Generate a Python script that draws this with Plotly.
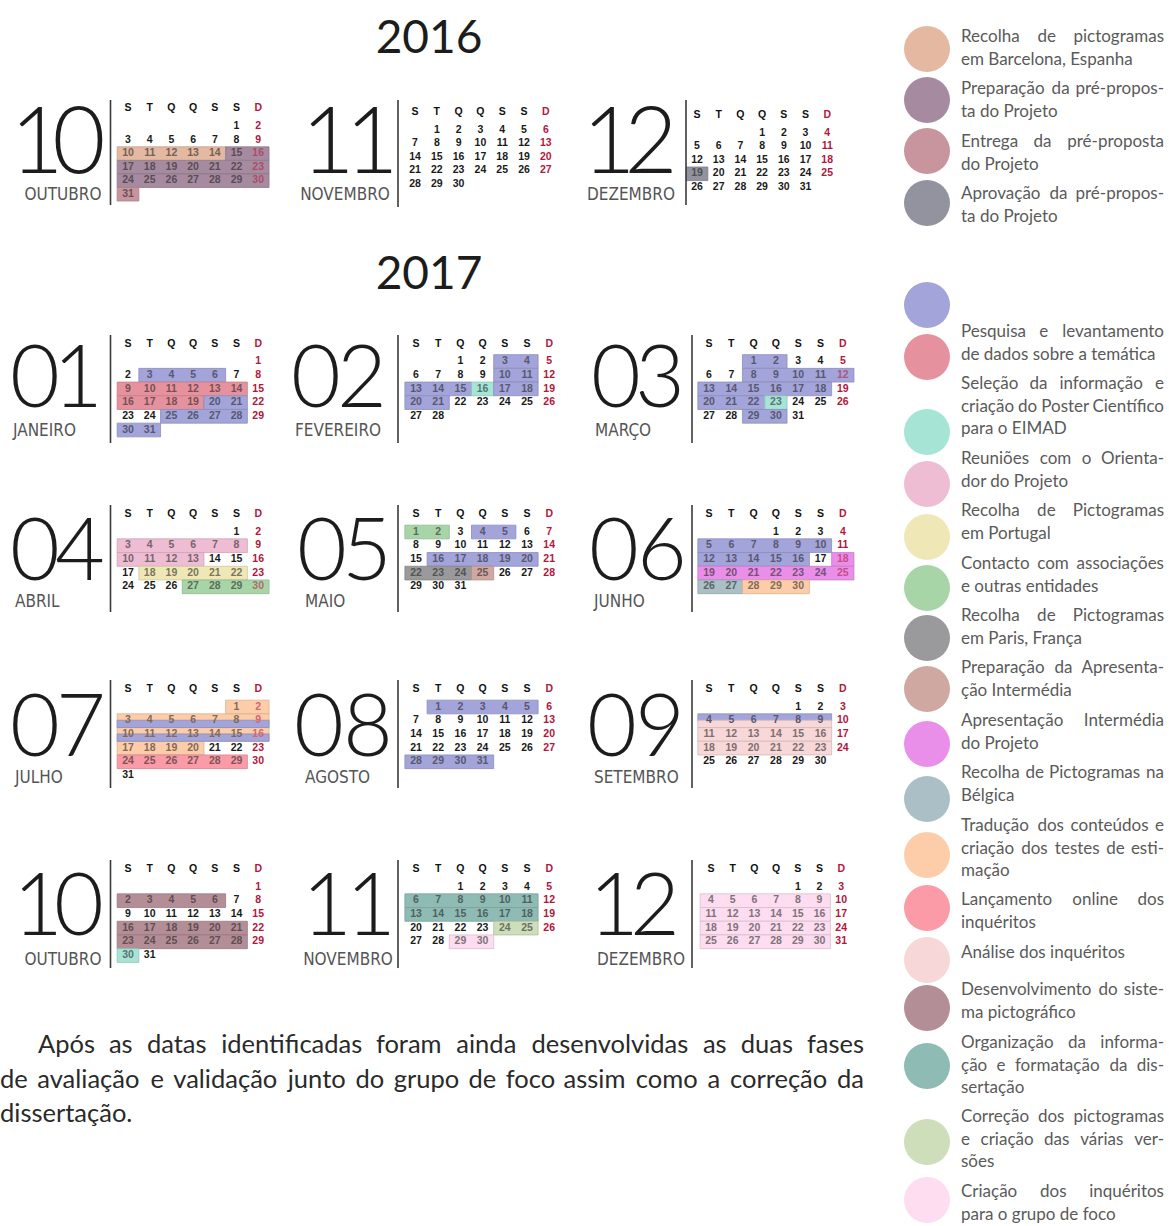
import calendar
import unicodedata
import plotly.graph_objects as go

W, H = 1169, 1226

# ---------------- data ----------------
TITLES = ["2016", "2017"]
MONTH_NAMES = {1: "JANEIRO", 2: "FEVEREIRO", 3: "MARÇO", 4: "ABRIL", 5: "MAIO", 6: "JUNHO",
               7: "JULHO", 8: "AGOSTO", 9: "SETEMBRO", 10: "OUTUBRO", 11: "NOVEMBRO", 12: "DEZEMBRO"}
WEEKDAY_HEADERS = ["S", "T", "Q", "Q", "S", "S", "D"]
MONTHS_SHOWN = [(2016, 10), (2016, 11), (2016, 12)] + [(2017, m) for m in range(1, 13)]

# activity colours (legend circle order)
ACT_COLORS = ["#E4B8A1", "#A68BA0", "#C8959F", "#92939F", "#A3A4D9", "#E6929E", "#A6E4D6",
              "#EEBDD3", "#EFE8B6", "#A8D5A8", "#9A9A9C", "#CFA8A1", "#E98FE9", "#ABC0C6",
              "#FDCDA9", "#FA9BA7", "#F7D7D7", "#B38E97", "#8FBBB5", "#CEDDBA", "#FDDDEF"]

# highlighted periods: activity index, year, month, first day, last day, part of cell
PER_ACT = [0, 1, 2, 3,
           4, 5, 5, 4, 4, 4,
           4, 4, 4, 6, 4, 4,
           4, 4, 4, 6, 4,
           7, 7, 8, 9,
           9, 4, 4, 10, 11,
           4, 4, 12, 13, 14,
           14, 4, 4, 15,
           4, 4,
           4, 16, 16, 16,
           17, 17, 17, 6,
           18, 18, 19, 20,
           20, 20, 20, 20]
PER_YEAR = [2016] * 4 + [2017] * 54
PER_MONTH = [10, 10, 10, 12,
             1, 1, 1, 1, 1, 1,
             2, 2, 2, 2, 2, 2,
             3, 3, 3, 3, 3,
             4, 4, 4, 4,
             5, 5, 5, 5, 5,
             6, 6, 6, 6, 6,
             7, 7, 7, 7,
             8, 8,
             9, 9, 9, 9,
             10, 10, 10, 10,
             11, 11, 11, 11,
             12, 12, 12, 12]
PER_START = [10, 15, 31, 19,
             3, 9, 16, 20, 25, 30,
             3, 10, 13, 16, 17, 20,
             1, 8, 20, 23, 29,
             3, 10, 18, 27,
             1, 4, 16, 22, 25,
             5, 12, 18, 26, 28,
             1, 3, 10, 24,
             1, 28,
             4, 4, 11, 18,
             2, 16, 23, 30,
             6, 13, 24, 29,
             4, 11, 18, 25]
PER_END = [14, 30, 31, 19,
           6, 14, 19, 21, 28, 31,
           4, 11, 15, 16, 18, 21,
           2, 18, 22, 23, 30,
           8, 13, 22, 30,
           2, 5, 20, 24, 25,
           10, 16, 25, 27, 30,
           20, 9, 16, 29,
           5, 31,
           9, 9, 16, 23,
           6, 21, 28, 30,
           11, 18, 25, 30,
           9, 16, 23, 30]
PER_PART = ["full"] * 36 + ["bottom", "bottom", "full", "full", "full", "top", "bottom"] + ["full"] * 15

LEGEND_TEXT = [
    ["Recolha de pictogramas", "em Barcelona, Espanha"],
    ["Preparação da pré-propos-", "ta do Projeto"],
    ["Entrega da pré-proposta", "do Projeto"],
    ["Aprovação da pré-propos-", "ta do Projeto"],
    ["Pesquisa e levantamento", "de dados sobre a temática"],
    ["Seleção da informação e", "criação do Poster Científico", "para o EIMAD"],
    ["Reuniões com o Orienta-", "dor do Projeto"],
    ["Recolha de Pictogramas", "em Portugal"],
    ["Contacto com associações", "e outras entidades"],
    ["Recolha de Pictogramas", "em Paris, França"],
    ["Preparação da Apresenta-", "ção Intermédia"],
    ["Apresentação Intermédia", "do Projeto"],
    ["Recolha de Pictogramas na", "Bélgica"],
    ["Tradução dos conteúdos e", "criação dos testes de esti-", "mação"],
    ["Lançamento online dos", "inquéritos"],
    ["Análise dos inquéritos"],
    ["Desenvolvimento do siste-", "ma pictográfico"],
    ["Organização da informa-", "ção e formatação da dis-", "sertação"],
    ["Correção dos pictogramas", "e criação das várias ver-", "sões"],
    ["Criação dos inquéritos", "para o grupo de foco"],
]

PARAGRAPH = ["Após as datas identificadas foram ainda desenvolvidas as duas fases",
             "de avaliação e validação junto do grupo de foco assim como a correção da",
             "dissertação."]

# ---------------- layout constants ----------------
LEG_CIRCLE_Y = [49, 100, 151, 203, 305, 357, 432, 484, 537, 588, 638, 689, 744, 799, 855,
                908, 960, 1008, 1066, 1142, 1200]
LEG_TEXT_Y = [38, 90, 143, 195, 333, 385, 460, 512, 565, 617, 669, 722, 774, 827, 901,
              954, 991, 1044, 1118, 1193]
LEG_LINE = 22.6
LEG_X0, LEG_X1 = 961, 1164

BLOCKS = {
    (2016, 10): dict(gx=128, gdx=21.7, hy=108, ry=126.5, ddy=13.55, ny=150, ns=92,
                     lx=63, ly=196, la="middle center", vx=110.5, vy=(100, 205)),
    (2016, 11): dict(gx=415, gdx=21.8, hy=112, ry=130, ddy=13.6, ny=150, ns=92,
                     lx=345, ly=196, la="middle center", vx=398, vy=(100, 207)),
    (2016, 12): dict(gx=697, gdx=21.7, hy=115, ry=133, ddy=13.6, ny=150, ns=92,
                     lx=631, ly=196, la="middle center", vx=686, vy=(100, 205)),
}
DIGIT_X = {(2016, 10): (37, 79), (2016, 11): (328, 372), (2016, 12): (609, 651),
           (2017, 1): (35, 78), (2017, 2): (316, 362), (2017, 3): (616, 660),
           (2017, 4): (35, 80), (2017, 5): (322, 367), (2017, 6): (614, 662),
           (2017, 7): (35, 81), (2017, 8): (319, 368), (2017, 9): (612, 660),
           (2017, 10): (38, 79), (2017, 11): (327, 371), (2017, 12): (614, 655)}
ROW_HY = [344, 514, 689, 869]
ROW_RY = [361.5, 532, 707, 887]
ROW_NY = [385, 558, 734, 913]
ROW_LY = [432, 603, 779, 961]
ROW_V = [(335, 443), (505, 612), (680, 788), (860, 968)]
COL_GX = [128, 416, 709]
COL_GDX = [21.7, 22.2, 22.3]
COL_VX = [110.5, 398, 692]
LAB_X = {1: 13, 2: 295, 3: 595, 4: 15, 5: 305, 6: 594, 7: 15, 8: 305, 9: 594, 10: 63, 11: 348, 12: 641}
for m in range(1, 13):
    r, c = (m - 1) // 3, (m - 1) % 3
    BLOCKS[(2017, m)] = dict(gx=COL_GX[c], gdx=COL_GDX[c], hy=ROW_HY[r], ry=ROW_RY[r], ddy=13.7,
                             ny=ROW_NY[r], ns=86, lx=LAB_X[m], ly=ROW_LY[r],
                             la="middle right" if m <= 9 else "middle center",
                             vx=COL_VX[c], vy=ROW_V[r])
BLOCKS[(2017, 12)].update(gx=711, gdx=21.7)

BLACK = (26, 26, 26)
RED = (178, 22, 60)


def h2r(h):
    return tuple(int(h[i:i + 2], 16) for i in (1, 3, 5))


def r2h(c):
    return "#%02x%02x%02x" % tuple(int(round(max(0, min(255, v)))) for v in c)


def blend(a, b, k):
    return tuple(a[i] * (1 - k) + b[i] * k for i in range(3))


CW = {'a': .514, 'b': .566, 'c': .458, 'd': .566, 'e': .525, 'f': .316, 'g': .505, 'h': .566,
      'i': .241, 'j': .241, 'k': .5, 'l': .241, 'm': .853, 'n': .566, 'o': .562, 'p': .566,
      'q': .566, 'r': .362, 's': .427, 't': .345, 'u': .566, 'v': .507, 'w': .779, 'x': .488,
      'y': .507, 'z': .456, 'A': .68, 'B': .62, 'C': .66, 'D': .72, 'E': .55, 'F': .53,
      'G': .7, 'H': .74, 'I': .28, 'J': .39, 'K': .62, 'L': .5, 'M': .88, 'N': .74, 'O': .78,
      'P': .6, 'Q': .78, 'R': .62, 'S': .52, 'T': .56, 'U': .71, 'V': .66, 'W': 1.0, 'X': .63,
      'Y': .6, 'Z': .6, '-': .34, ',': .21, '.': .21}


def word_w(word, size):
    t = 0
    for ch in word:
        b = unicodedata.normalize("NFD", ch)[0]
        t += CW.get(b, .58)
    return t * size


def place_line(line, x0, x1, y, justify, size, out):
    words = line.split()
    if justify and len(words) > 1:
        ws = [word_w(w, size) for w in words]
        gap = (x1 - x0 - sum(ws)) / (len(words) - 1)
        x = x0
        for i, w in enumerate(words):
            if i == len(words) - 1:
                out.append((x1, y, w, "middle left"))
            else:
                out.append((x, y, w, "middle right"))
            x += ws[i] + gap
    else:
        out.append((x0, y, line, "middle right"))


fig = go.Figure()
shapes = []

# ---------------- calendars ----------------
day_x, day_y, day_t, day_c = [], [], [], []
hd_x, hd_y, hd_t, hd_c = [], [], [], []
num_x, num_y, num_t, num_s = [], [], [], []
lab_x, lab_y, lab_t, lab_p = [], [], [], []

for (yy, mm) in MONTHS_SHOWN:
    b = BLOCKS[(yy, mm)]
    first_wd, ndays = calendar.monthrange(yy, mm)

    def pos(d):
        idx = first_wd + d - 1
        return idx % 7, idx // 7

    # headers
    for c, letter in enumerate(WEEKDAY_HEADERS):
        hd_x.append(b["gx"] + c * b["gdx"])
        hd_y.append(b["hy"])
        hd_t.append(letter)
        hd_c.append(r2h(RED if c == 6 else (17, 17, 17)))

    # highlight layers
    layers = []
    for a, py, pm, s, e, part in zip(PER_ACT, PER_YEAR, PER_MONTH, PER_START, PER_END, PER_PART):
        if py == yy and pm == mm:
            layers.append((a, part, list(range(s, e + 1))))
    layers.sort(key=lambda L: 0 if L[1] == "full" else 1)
    cell_fill = {}
    for a, part, days in layers:
        for d in days:
            cell_fill.setdefault(d, a)
        runs = []
        for d in days:
            c, r = pos(d)
            if runs and runs[-1][0] == r and runs[-1][2] == c - 1:
                runs[-1][2] = c
            else:
                runs.append([r, c, c])
        for r, c0, c1 in runs:
            cy = b["ry"] + r * b["ddy"]
            x0 = b["gx"] + c0 * b["gdx"] - b["gdx"] / 2
            x1 = b["gx"] + c1 * b["gdx"] + b["gdx"] / 2
            if part == "full":
                y0, y1 = cy - b["ddy"] / 2, cy + b["ddy"] / 2
            elif part == "top":
                y0, y1 = cy - b["ddy"] / 2, cy + 0.5
            else:
                y0, y1 = cy - 0.5, cy + b["ddy"] / 2
            col = h2r(ACT_COLORS[a])
            shapes.append(dict(type="rect", xref="x", yref="y", x0=x0, x1=x1, y0=y0, y1=y1,
                               layer="below", fillcolor=ACT_COLORS[a],
                               line=dict(color=r2h(tuple(v * 0.86 for v in col)), width=0.8)))

    for d in range(1, ndays + 1):
        c, r = pos(d)
        base = RED if c == 6 else BLACK
        if d in cell_fill:
            base = blend(base, h2r(ACT_COLORS[cell_fill[d]]), 0.45)
        day_x.append(b["gx"] + c * b["gdx"])
        day_y.append(b["ry"] + r * b["ddy"])
        day_t.append(str(d))
        day_c.append(r2h(base))

    # big month number, one digit at a time
    for ch, dx in zip("%02d" % mm, DIGIT_X[(yy, mm)]):
        num_x.append(dx); num_y.append(b["ny"]); num_t.append(ch); num_s.append(b["ns"])
    lab_x.append(b["lx"]); lab_y.append(b["ly"]); lab_t.append(MONTH_NAMES[mm]); lab_p.append(b["la"])
    shapes.append(dict(type="line", xref="x", yref="y", x0=b["vx"], x1=b["vx"],
                       y0=b["vy"][0], y1=b["vy"][1], layer="below",
                       line=dict(color="#3a3a3a", width=1.6)))

fig.add_trace(go.Scatter(x=day_x, y=day_y, text=day_t, mode="text", cliponaxis=False,
                         textposition="middle center", hoverinfo="skip",
                         textfont=dict(family="Liberation Sans, Arial", size=10.5, color=day_c,
                                       weight="bold")))
fig.add_trace(go.Scatter(x=hd_x, y=hd_y, text=hd_t, mode="text", cliponaxis=False,
                         textposition="middle center", hoverinfo="skip",
                         textfont=dict(family="Liberation Sans, Arial", size=10.5, color=hd_c,
                                       weight="bold")))
fig.add_trace(go.Scatter(x=num_x, y=num_y, text=num_t, mode="text", cliponaxis=False,
                         textposition="middle center", hoverinfo="skip",
                         textfont=dict(family="Lato Light, Lato", size=num_s, color="#1c1c1c",
                                       weight=300)))
fig.add_trace(go.Scatter(x=lab_x, y=lab_y, text=lab_t, mode="text", cliponaxis=False,
                         textposition=lab_p, hoverinfo="skip",
                         textfont=dict(family="Liberation Sans Narrow, DejaVu Sans Condensed, Arial",
                                       size=17, color="#555555")))

# titles
fig.add_trace(go.Scatter(x=[429, 429], y=[41, 277], text=TITLES, mode="text", cliponaxis=False,
                         textposition="middle center", hoverinfo="skip",
                         textfont=dict(family="Lato", size=46, color="#1c1c1c")))

# ---------------- legend ----------------
fig.add_trace(go.Scatter(x=[927] * len(LEG_CIRCLE_Y), y=LEG_CIRCLE_Y, mode="markers",
                         hoverinfo="skip", cliponaxis=False,
                         marker=dict(size=46, color=ACT_COLORS, line=dict(width=0))))
leg_words = []
for item, y0 in zip(LEGEND_TEXT, LEG_TEXT_Y):
    for i, line in enumerate(item):
        place_line(line, LEG_X0, LEG_X1, y0 + i * LEG_LINE, i < len(item) - 1, 17, leg_words)
fig.add_trace(go.Scatter(x=[w[0] for w in leg_words], y=[w[1] for w in leg_words],
                         text=[w[2] for w in leg_words], textposition=[w[3] for w in leg_words],
                         mode="text", cliponaxis=False, hoverinfo="skip",
                         textfont=dict(family="Lato", size=17, color="#5a5a5a")))

# ---------------- paragraph ----------------
par_words = []
PAR_X0 = [38, 0, 0]
PAR_Y = [1047, 1082, 1116]
for i, line in enumerate(PARAGRAPH):
    place_line(line, PAR_X0[i], 864, PAR_Y[i], i < len(PARAGRAPH) - 1, 25.5, par_words)
fig.add_trace(go.Scatter(x=[w[0] for w in par_words], y=[w[1] for w in par_words],
                         text=[w[2] for w in par_words], textposition=[w[3] for w in par_words],
                         mode="text", cliponaxis=False, hoverinfo="skip",
                         textfont=dict(family="Lato", size=25.5, color="#2a2a2a")))

fig.update_layout(
    width=W, height=H, margin=dict(l=0, r=0, t=0, b=0),
    paper_bgcolor="white", plot_bgcolor="white", showlegend=False, hovermode=False,
    xaxis=dict(range=[0, W], visible=False, fixedrange=True),
    yaxis=dict(range=[H, 0], visible=False, fixedrange=True),
    shapes=shapes,
)
fig.write_html("out.html", config={"displayModeBar": False},
               post_script="document.body.style.margin='0';")
